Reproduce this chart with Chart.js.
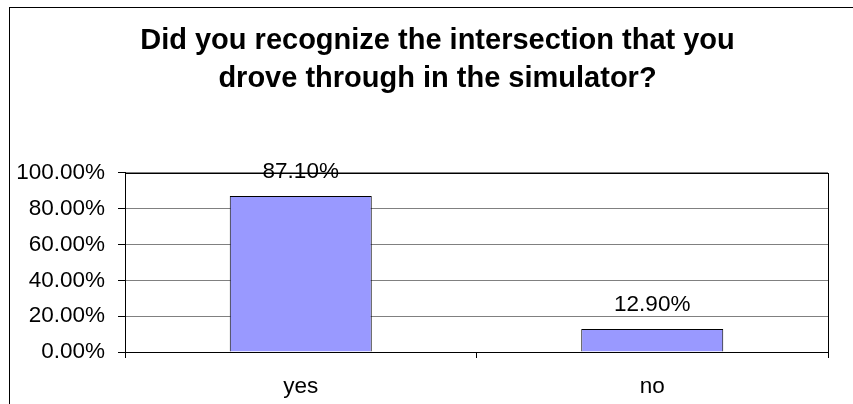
<!DOCTYPE html>
<html>
<head>
<meta charset="utf-8">
<script src="https://cdn.jsdelivr.net/npm/chart.js@4"></script>
<style>
	body { margin: 0; background: #fff; }
	#wrap { position: relative; width: 853px; height: 404px; }
	#frame { position: absolute; left: 9px; top: 7px; right: 0; bottom: 0; border-left: 1px solid #000; border-top: 1px solid #000; }
	canvas { position: absolute; left: 0; top: 0; }
</style>
</head>
<body>
<div id="wrap">
	<div id="frame"></div>
	<canvas id="chart"></canvas>
</div>
<script>
const categories = ['yes', 'no'];
const answers = [0.871, 0.129];
const titleLines = ['Did you recognize the intersection that you', 'drove through in the simulator?'];

const fontFamily = "'Liberation Sans', Arial, sans-serif";

function pct(v){
	return (v * 100).toFixed(2) + '%';
}

// plot area border + value labels above bars
const excelLook = {
	id: 'excelLook',
	afterDatasetsDraw(chart){
		const ctx = chart.ctx;
		const a = chart.chartArea;
		ctx.save();
		ctx.strokeStyle = '#000';
		ctx.lineWidth = 1;
		ctx.strokeRect(Math.round(a.left) + 0.5, Math.round(a.top) + 0.5, Math.round(a.right - a.left), Math.round(a.bottom - a.top));
		ctx.fillStyle = '#000';
		ctx.font = '22.5px ' + fontFamily;
		ctx.textAlign = 'center';
		ctx.textBaseline = 'alphabetic';
		chart.getDatasetMeta(0).data.forEach((bar, i) => {
			ctx.fillText(pct(answers[i]), bar.x, bar.y - 18);
		});
		ctx.restore();
	}
};

new Chart(document.getElementById('chart'), {
	type: 'bar',
	data: {
		labels: categories,
		datasets: [{
			data: answers,
			yAxisID: 'y',
			backgroundColor: '#9999FF',
			borderColor: '#000',
			borderWidth: 1,
			categoryPercentage: 1,
			barPercentage: 0.404
		}]
	},
	options: {
		responsive: true,
		maintainAspectRatio: false,
		animation: false,
		// negative right padding shifts the centred title to the right like the reference
		layout: { padding: { top: 0, left: 0, right: -22, bottom: 0 } },
		plugins: {
			legend: { display: false },
			tooltip: { enabled: false },
			title: {
				display: true,
				text: titleLines,
				color: '#000',
				font: { family: fontFamily, size: 29, weight: 'bold', lineHeight: 1.31 },
				padding: { top: 22, bottom: 75 }
			}
		},
		scales: {
			x: {
				grid: { offset: true, drawOnChartArea: false, drawTicks: true, tickLength: 6, tickColor: '#000' },
				border: { color: '#000' },
				ticks: { color: '#000', padding: 15, font: { family: fontFamily, size: 22.5 } },
				afterFit(scale){ scale.height = 52; }
			},
			y: {
				min: 0,
				max: 1,
				grid: { color: '#808080', tickColor: '#000', tickLength: 7 },
				border: { color: '#000' },
				ticks: {
					stepSize: 0.2,
					color: '#000',
					padding: 13,
					font: { family: fontFamily, size: 22.5 },
					callback: (v) => pct(v)
				},
				afterFit(scale){ scale.width = 125; }
			},
			// empty right gutter so the plot ends where the reference's does
			gutter: {
				type: 'linear',
				position: 'right',
				grid: { display: false },
				border: { display: false },
				ticks: { display: false },
				afterFit(scale){ scale.width = 47; }
			}
		}
	},
	plugins: [excelLook]
});
</script>
</body>
</html>
